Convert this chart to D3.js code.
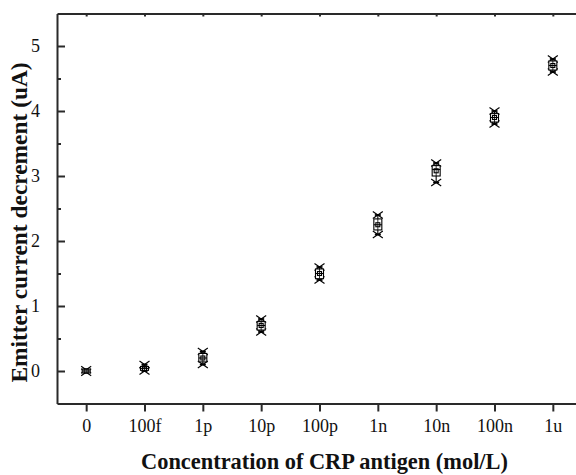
<!DOCTYPE html>
<html><head><meta charset="utf-8">
<script src="https://cdn.jsdelivr.net/npm/d3@7"></script>
<style>html,body{margin:0;padding:0;background:#fff;} svg{display:block;}</style>
</head><body>
<script>
const categories = ["0","100f","1p","10p","100p","1n","10n","100n","1u"];
const maxVals    = [0.02, 0.10, 0.30, 0.80, 1.60, 2.40, 3.20, 4.00, 4.80];
const minVals    = [-0.02, 0.00, 0.10, 0.60, 1.40, 2.10, 2.90, 3.80, 4.60];
const q3Vals     = [0.03, 0.07, 0.27, 0.76, 1.57, 2.34, 3.16, 3.96, 4.77];
const q1Vals     = [-0.03, 0.01, 0.14, 0.63, 1.42, 2.17, 3.00, 3.83, 4.63];
const medianVals = [0.00, 0.04, 0.20, 0.70, 1.50, 2.25, 3.10, 3.90, 4.70];
const meanVals   = [0.00, 0.03, 0.20, 0.70, 1.50, 2.25, 3.08, 3.90, 4.70];
const yMajor = [0,1,2,3,4,5];
const yMinor = [0.5,1.5,2.5,3.5,4.5];

const W = 576, H = 475;
const L = 57, R = 582, T = 13.5, B = 403.5;
const axisColor = "#2a2a2a";
const font = "'Liberation Serif','Times New Roman',serif";

const svg = d3.select("body").append("svg").attr("width", W).attr("height", H);

const x = d3.scaleLinear().domain([-0.5, 8.5]).range([L, R]);
const y = d3.scaleLinear().domain([-0.5, 5.5]).range([B, T]);

// Bottom axis
const xAxis = d3.axisBottom(x).tickValues(d3.range(categories.length))
  .tickFormat(i => categories[i]).tickSize(8).tickSizeOuter(0).tickPadding(8);
const gx = svg.append("g").attr("transform", `translate(0,${B})`).call(xAxis);
gx.select(".domain").attr("stroke", axisColor).attr("stroke-width", 2);
gx.selectAll(".tick line").attr("stroke", axisColor).attr("stroke-width", 2);
gx.selectAll(".tick text").attr("font-family", font).attr("font-size", 18).attr("fill", "#111");

// Top axis
const xTop = d3.axisTop(x).tickValues(d3.range(categories.length))
  .tickFormat("").tickSize(-3).tickSizeOuter(0);
const gt = svg.append("g").attr("transform", `translate(0,${T})`).call(xTop);
gt.select(".domain").attr("stroke", axisColor).attr("stroke-width", 2);
gt.selectAll(".tick line").attr("stroke", axisColor).attr("stroke-width", 2);

// Left axis (inward ticks)
const yAxis = d3.axisLeft(y).tickValues(yMajor).tickFormat(d3.format("d"))
  .tickSize(-8).tickSizeOuter(0).tickPadding(17);
const gy = svg.append("g").attr("transform", `translate(${L},0)`).call(yAxis);
gy.select(".domain").attr("stroke", axisColor).attr("stroke-width", 2);
gy.selectAll(".tick line").attr("stroke", axisColor).attr("stroke-width", 2);
gy.selectAll(".tick text").attr("font-family", font).attr("font-size", 18).attr("fill", "#111");
const yAxisMinor = d3.axisLeft(y).tickValues(yMinor).tickFormat("").tickSize(-4).tickSizeOuter(0);
const gym = svg.append("g").attr("transform", `translate(${L},0)`).call(yAxisMinor);
gym.select(".domain").remove();
gym.selectAll(".tick line").attr("stroke", axisColor).attr("stroke-width", 2);

// Box markers
const bw = 8, xs = 5, xh = 3.5, cap = 3, ms = 2;
const g = svg.append("g").attr("stroke", "#000").attr("fill", "none").attr("stroke-width", 1.1);
categories.forEach((c, i) => {
  const cx = x(i);
  g.append("line").attr("x1", cx).attr("x2", cx).attr("y1", y(q3Vals[i])).attr("y2", y(maxVals[i]));
  g.append("line").attr("x1", cx).attr("x2", cx).attr("y1", y(q1Vals[i])).attr("y2", y(minVals[i]));
  [maxVals[i], minVals[i]].forEach(v => {
    g.append("line").attr("x1", cx - cap).attr("x2", cx + cap).attr("y1", y(v)).attr("y2", y(v)).attr("stroke-width", 1.8);
    g.append("line").attr("x1", cx - xs).attr("x2", cx + xs).attr("y1", y(v) - xh).attr("y2", y(v) + xh);
    g.append("line").attr("x1", cx - xs).attr("x2", cx + xs).attr("y1", y(v) + xh).attr("y2", y(v) - xh);
  });
  g.append("rect").attr("x", cx - bw / 2).attr("width", bw)
    .attr("y", y(q3Vals[i])).attr("height", Math.max(1, y(q1Vals[i]) - y(q3Vals[i])))
    .attr("fill", "#fff");
  g.append("line").attr("x1", cx - bw / 2).attr("x2", cx + bw / 2)
    .attr("y1", y(medianVals[i])).attr("y2", y(medianVals[i]));
  g.append("rect").attr("x", cx - ms).attr("y", y(meanVals[i]) - ms).attr("width", ms * 2).attr("height", ms * 2);
  g.append("line").attr("x1", cx).attr("x2", cx).attr("y1", y(q3Vals[i])).attr("y2", y(q1Vals[i])).attr("stroke-width", 0.8);
});

// Axis titles
svg.append("text").attr("x", 324.5).attr("y", 468.5).attr("text-anchor", "middle")
  .attr("font-family", font).attr("font-weight", "bold").attr("font-size", 22.4).attr("fill", "#111")
  .text("Concentration of CRP antigen (mol/L)");
svg.append("text").attr("transform", "translate(27,222.5) rotate(-90)").attr("text-anchor", "middle")
  .attr("font-family", font).attr("font-weight", "bold").attr("font-size", 23.4).attr("fill", "#111")
  .text("Emitter current decrement (uA)");
</script>
</body></html>
